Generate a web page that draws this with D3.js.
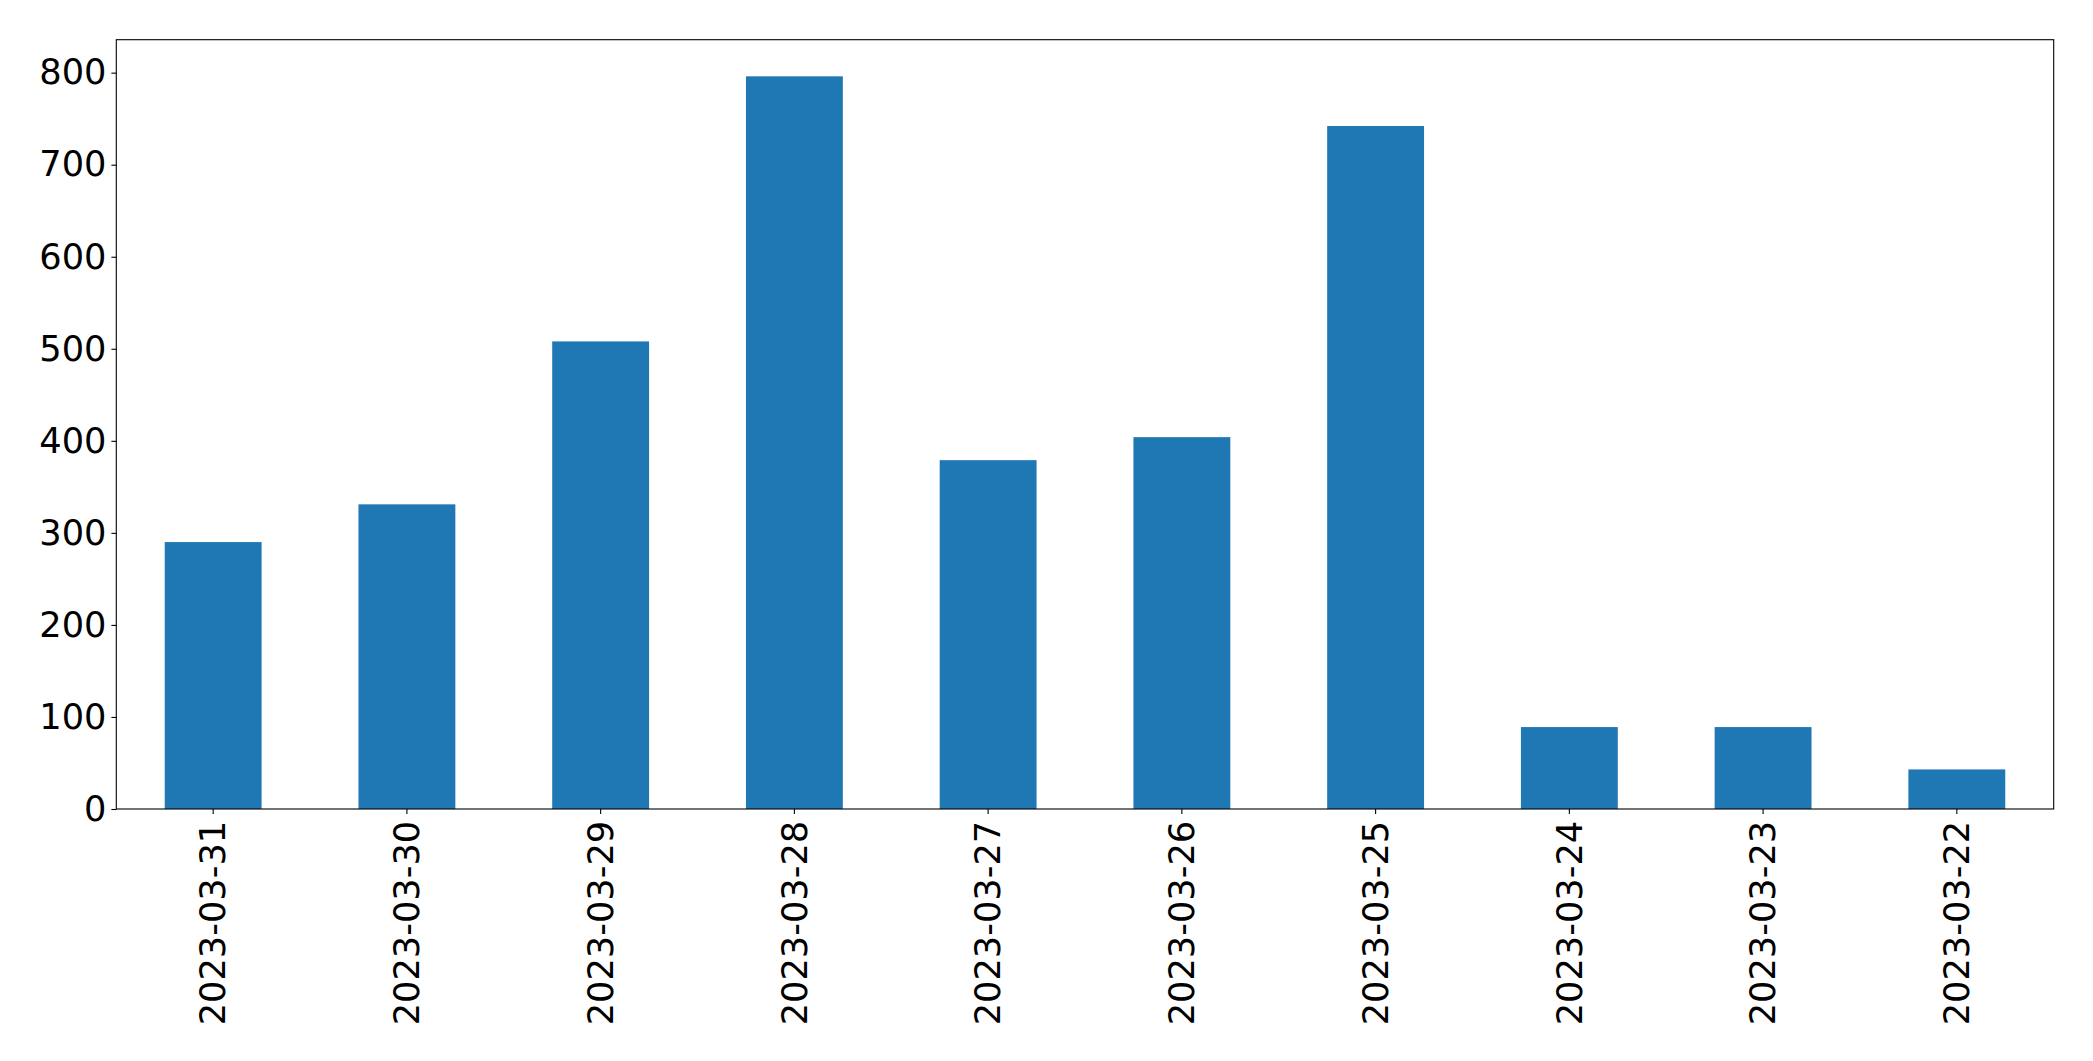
<!DOCTYPE html>
<html>
<head>
<meta charset="utf-8">
<script src="https://cdn.jsdelivr.net/npm/d3@7"></script>
<style>
html,body{margin:0;padding:0;background:#fff;}
svg{display:block;}
</style>
</head>
<body>
<svg id="chart" width="2093" height="1061"></svg>
<script>
const categories = ["2023-03-31","2023-03-30","2023-03-29","2023-03-28","2023-03-27","2023-03-26","2023-03-25","2023-03-24","2023-03-23","2023-03-22"];
const values = [290, 331, 508, 796, 379, 404, 742, 89, 89, 43];
const yTicks = [0, 100, 200, 300, 400, 500, 600, 700, 800];

const W = 2093, H = 1061;
const margin = {left: 116.3, right: W - 2053.7, top: 39.7, bottom: H - 809};
const svg = d3.select("#chart");
const iw = W - margin.left - margin.right;
const ih = H - margin.top - margin.bottom;
const g = svg.append("g").attr("transform", `translate(${margin.left},${margin.top})`);

const x = d3.scaleBand().domain(categories).range([0, iw]).paddingInner(0.5).paddingOuter(0.25);
const yMax = d3.max(values) * 1.05;
const y = d3.scaleLinear().domain([0, yMax]).range([ih, 0]);

g.selectAll("rect.bar").data(values).join("rect")
  .attr("class", "bar")
  .attr("x", (d, i) => x(categories[i]))
  .attr("width", x.bandwidth())
  .attr("y", d => y(d))
  .attr("height", d => y(0) - y(d))
  .attr("fill", "#1f77b4");

const font = "'DejaVu Sans', sans-serif";
const fs = 35.2;
const tickLen = 4.9, pad = 4.9;

const yAxis = g.append("g").call(d3.axisLeft(y).tickValues(yTicks).tickSize(tickLen).tickPadding(pad).tickFormat(d3.format("d")));
yAxis.select(".domain").remove();
yAxis.selectAll("line").attr("stroke", "#000").attr("stroke-width", 1.1);
yAxis.selectAll("text").attr("font-family", font).attr("font-size", fs).attr("fill", "#000");

const xAxis = g.append("g").attr("transform", `translate(0,${ih})`)
  .call(d3.axisBottom(x).tickSize(tickLen).tickPadding(pad));
xAxis.select(".domain").remove();
xAxis.selectAll("line").attr("stroke", "#000").attr("stroke-width", 1.1);
xAxis.selectAll("text")
  .attr("font-family", font).attr("font-size", fs).attr("fill", "#000")
  .attr("transform", "rotate(-90)")
  .attr("text-anchor", "end")
  .attr("x", -(tickLen + pad + 2))
  .attr("y", 0)
  .attr("dy", "0.35em");

g.append("rect").attr("x", 0).attr("y", 0).attr("width", iw).attr("height", ih)
  .attr("fill", "none").attr("stroke", "#000").attr("stroke-width", 1.1);
</script>
</body>
</html>
